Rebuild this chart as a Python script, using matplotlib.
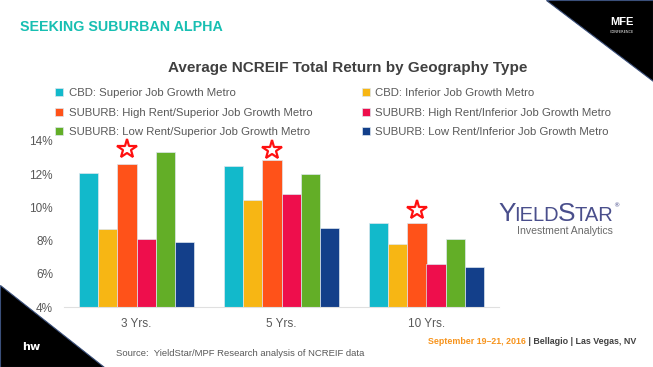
import matplotlib
matplotlib.use("Agg")
import matplotlib.pyplot as plt
import numpy as np
from matplotlib.patches import Polygon

categories = ["3 Yrs.", "5 Yrs.", "10 Yrs."]
series_names = [
    "CBD: Superior Job Growth Metro",
    "CBD: Inferior Job Growth Metro",
    "SUBURB: High Rent/Superior Job Growth Metro",
    "SUBURB: High Rent/Inferior Job Growth Metro",
    "SUBURB: Low Rent/Superior Job Growth Metro",
    "SUBURB: Low Rent/Inferior Job Growth Metro",
]
cbd_superior = [12.05, 12.51, 9.06]
cbd_inferior = [8.68, 10.43, 7.80]
sub_high_superior = [12.63, 12.84, 9.06]
sub_high_inferior = [8.10, 10.79, 6.61]
sub_low_superior = [13.32, 11.99, 8.10]
sub_low_inferior = [7.92, 8.78, 6.39]
yticks = [4, 6, 8, 10, 12, 14]
ytick_labels = ["4%", "6%", "8%", "10%", "12%", "14%"]

series = [cbd_superior, cbd_inferior, sub_high_superior,
          sub_high_inferior, sub_low_superior, sub_low_inferior]
colors = ["#12B9CB", "#F7B614", "#FF5219", "#EE0E4C", "#63AE27", "#133F8A"]

W, H = 653, 367
fig = plt.figure(figsize=(W / 100, H / 100), dpi=100)
fig.patch.set_facecolor("white")
renderer = fig.canvas.get_renderer()

SANS = ["Liberation Sans", "DejaVu Sans"]

# decorative triangles
fig.patches.append(Polygon([(546 / W, 1), (1, 1), (1, 1 - 81 / H)], closed=True,
                           transform=fig.transFigure, facecolor="black", edgecolor="#3a4f7a", lw=0.8))
fig.patches.append(Polygon([(0, 1 - 285 / H), (0, 0), (104 / W, 0)], closed=True,
                           transform=fig.transFigure, facecolor="black", edgecolor="#3a4f7a", lw=0.8))


def fx(px):
    return px / W


def fy(py):
    return 1 - py / H


def width_px(t):
    return t.get_window_extent(renderer=renderer).width


fig.text(fx(20), fy(27), "SEEKING SUBURBAN ALPHA", color="#17BFB2", fontsize=10.3,
         fontweight="bold", family=SANS, va="center", ha="left")
fig.text(fx(622), fy(22), "MFE", color="white", fontsize=8, fontweight="bold",
         family=SANS, va="center", ha="center")
fig.text(fx(622), fy(32), "CONFERENCE", color="white", fontsize=2.5,
         va="center", ha="center")

fig.text(fx(348), fy(68), "Average NCREIF Total Return by Geography Type", color="#404040",
         fontsize=11, fontweight="bold", family=SANS, va="center", ha="center")

# axes
ax = fig.add_axes([fx(64), fy(307), fx(499) - fx(64), (307 - 141) / H])
x = np.arange(len(categories))
n = len(series)
bw = 0.132
for i, (vals, c) in enumerate(zip(series, colors)):
    ax.bar(x + (i - (n - 1) / 2) * bw, vals, width=bw, bottom=0, color=c,
           edgecolor="#dde6ee", linewidth=0.5, label=series_names[i], zorder=2)

# stars over the SUBURB High Rent/Superior bars
star_x = x + (2 - (n - 1) / 2) * bw
star_off = [0.88, 0.62, 0.78]
ax.plot(star_x, np.array(sub_high_superior) + np.array(star_off), linestyle="none",
        marker="*", markersize=15, markerfacecolor="white", markeredgecolor="#FF1010",
        markeredgewidth=1.6, zorder=3, clip_on=False)

ax.set_ylim(4, 14)
ax.set_xlim(-0.5, 2.5)
ax.set_yticks(yticks)
ax.set_yticklabels(ytick_labels)
ax.set_xticks(x)
ax.set_xticklabels(categories)
for s in ["top", "right", "left"]:
    ax.spines[s].set_visible(False)
ax.spines["bottom"].set_color("#e0e0e0")
ax.spines["bottom"].set_linewidth(0.8)
ax.tick_params(axis="both", length=0, colors="#595959", labelsize=8.5)
ax.tick_params(axis="x", pad=8)
ax.tick_params(axis="y", pad=8)
for lbl in ax.get_xticklabels() + ax.get_yticklabels():
    lbl.set_family(SANS)
ax.set_facecolor("none")

# legend
handles, labels = ax.get_legend_handles_labels()
order = [0, 2, 4, 1, 3, 5]
leg = fig.legend([handles[i] for i in order], [labels[i] for i in order], ncol=2,
                 loc="upper left", bbox_to_anchor=(fx(52), fy(85)), frameon=False,
                 fontsize=8.2, handlelength=0.7, handleheight=0.7, handletextpad=0.5,
                 columnspacing=4.3, labelspacing=0.8, labelcolor="#595959",
                 borderaxespad=0, borderpad=0.3)
for t in leg.get_texts():
    t.set_family(SANS)

# YieldStar logo text (chained pieces)
logo_col = "#4A4F8C"
xpos = 498
pieces = [("Y", 19), ("IELD", 14.5), ("S", 19), ("TAR", 14.5)]
for txt, sz in pieces:
    t = fig.text(fx(xpos), fy(221), txt, color=logo_col, fontsize=sz, va="baseline", ha="left",
                 family=SANS)
    xpos += width_px(t) - 1
fig.text(fx(xpos + 1), fy(206), "®", color=logo_col, fontsize=4.5, va="center", ha="left")
fig.text(fx(517), fy(234), "Investment Analytics", color="#6b6b6b", fontsize=7.6,
         va="baseline", ha="left", family=SANS)

# footer
fig.text(fx(22), fy(347), "h", color="white", fontsize=8, fontweight="bold", va="center")
fig.text(fx(30), fy(347), "w", color="white", fontsize=8, fontweight="bold", va="center")
fig.text(fx(116), fy(353), "Source:  YieldStar/MPF Research analysis of NCREIF data", color="#595959",
         fontsize=6.8, va="center", ha="left", family=SANS)

t2 = fig.text(fx(636), fy(341), " | Bellagio | Las Vegas, NV", color="#404040", fontsize=6.4,
              fontweight="bold", va="center", ha="right", family=SANS)
w2 = width_px(t2)
fig.text(fx(636 - w2), fy(341), "September 19\u201321, 2016", color="#F7941D", fontsize=6.4,
         fontweight="bold", va="center", ha="right", family=SANS)

fig.savefig("out.png", dpi=100, facecolor="white")
